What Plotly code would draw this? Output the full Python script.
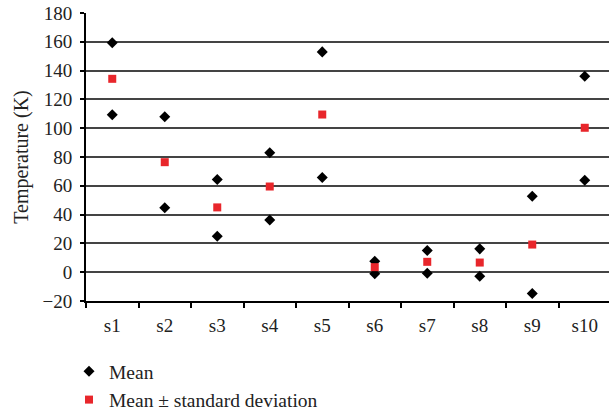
import plotly.graph_objects as go

categories = ["s1", "s2", "s3", "s4", "s5", "s6", "s7", "s8", "s9", "s10"]
upper = [159.3, 107.9, 64.4, 83.0, 153.0, 7.6, 15.1, 16.2, 52.8, 136.1]
lower = [109.3, 44.7, 25.0, 36.3, 65.8, -1.1, -0.7, -2.8, -14.8, 63.9]
means = [134.3, 76.4, 45.0, 59.5, 109.5, 3.5, 7.2, 6.7, 19.2, 100.3]
y_ticks = [-20, 0, 20, 40, 60, 80, 100, 120, 140, 160, 180]

FONT = "Liberation Serif, Times New Roman, serif"
RED = "#e8262b"

fig = go.Figure()
fig.add_trace(go.Scatter(
    x=categories, y=upper, mode="markers", name="Mean",
    legendgroup="m",
    marker=dict(symbol="diamond", size=8.5, color="black"),
))
fig.add_trace(go.Scatter(
    x=categories, y=lower, mode="markers", name="Mean",
    legendgroup="m", showlegend=False,
    marker=dict(symbol="diamond", size=8.5, color="black"),
))
fig.add_trace(go.Scatter(
    x=categories, y=means, mode="markers", name="Mean \u00b1 standard deviation",
    marker=dict(symbol="square", size=8, color=RED),
))

fig.update_layout(
    width=609, height=412,
    margin=dict(l=86, r=0, t=13, b=110.5, autoexpand=False),
    paper_bgcolor="white", plot_bgcolor="white",
    font=dict(family=FONT, size=18, color="#222"),
    showlegend=True,
    legend=dict(
        x=-0.0325, xanchor="left", y=-0.41, yanchor="bottom",
        orientation="v", font=dict(family=FONT, size=19.5, color="#222"),
        bgcolor="rgba(0,0,0,0)", tracegroupgap=0, itemwidth=30,
    ),
    xaxis=dict(
        type="category", categoryorder="array", categoryarray=categories,
        range=[-0.5, 9.462], tickson="boundaries", automargin=False,
        ticks="outside", ticklen=5, tickwidth=1.5, tickcolor="black",
        showline=True, linecolor="black", linewidth=2,
        showgrid=False, zeroline=False,
        tickfont=dict(family=FONT, size=19, color="#222"),
        ticklabelstandoff=6,
    ),
    yaxis=dict(
        range=[-20, 180], tickvals=y_ticks, automargin=False,
        ticktext=[("\u221220" if v < 0 else str(v)) for v in y_ticks],
        ticks="outside", ticklen=4, tickwidth=1.5, tickcolor="black",
        showline=True, linecolor="black", linewidth=2,
        showgrid=True, gridcolor="#444", gridwidth=1.5,
        zeroline=False, ticklabeloverflow="allow",
        tickfont=dict(family=FONT, size=19, color="#222"),
        ticklabelstandoff=4,
        title=dict(text="Temperature (K)", font=dict(family=FONT, size=20, color="#222"), standoff=8),
    ),
)

fig.write_html("out.html", config={"displayModeBar": False},
               post_script="document.body.style.margin='0';")
